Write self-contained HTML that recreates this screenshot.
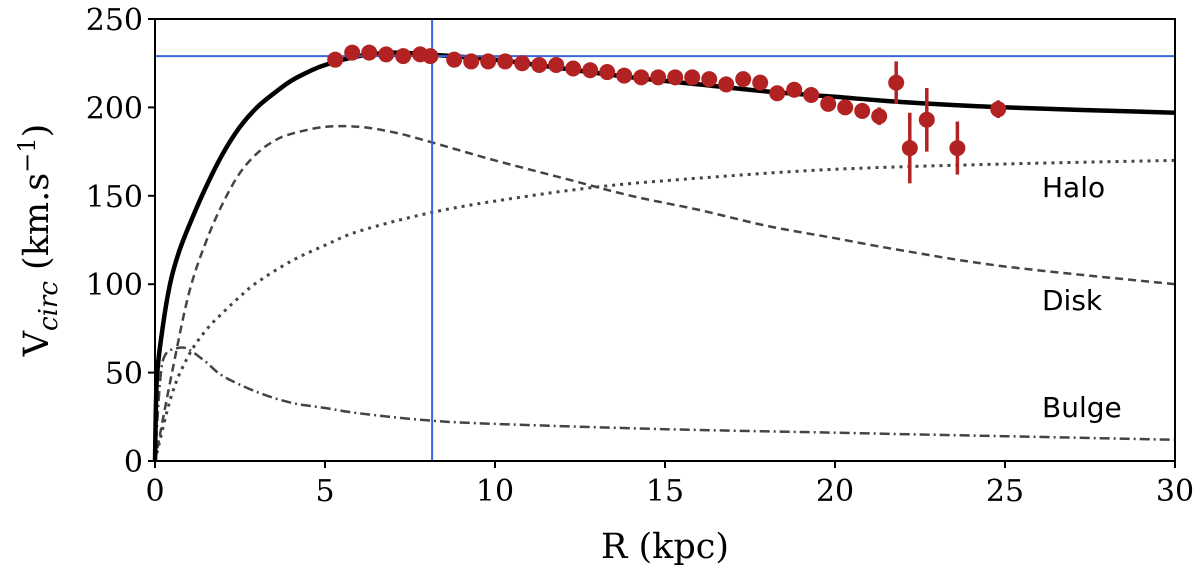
<!DOCTYPE html>
<html><head><meta charset="utf-8">
<style>
html,body{margin:0;padding:0;background:#fff;}
svg{display:block;}
.tick{font-family:"DejaVu Serif","Liberation Serif",serif;font-size:30px;fill:#000;}
.lab{font-family:"DejaVu Sans","Liberation Sans",sans-serif;font-size:28px;fill:#000;}
</style></head>
<body>
<svg id="chart" width="1200" height="574" viewBox="0 0 1200 574">
</svg>
<script>
const xTicks=[0,5,10,15,20,25,30];
const yTicks=[0,50,100,150,200,250];
const totR=[0,0.05,0.2,0.44,0.7,1,1.5,2,2.5,3,3.5,4,4.5,5,6,7,8,10,12,14,16,18,20,22,25,30];
const totV=[0,45,72,100,118,133,155,174,189,200,208,215,220,224,229,231,230,227,222,217,213,209,206,203,200,197];
const diskR=[0,0.5,1,1.5,2,2.5,3,3.5,4,5,6,7,8,10,12,14,16,18,20,22,25,30];
const diskV=[0,50,95,124,146,163,174,181,185,189,189,186,181,170,160,150,142,133,126,119,110,100];
const haloR=[0,0.5,1,1.5,2,2.5,3,4,5,6,8,10,13,16,20,25,30];
const haloV=[0,38,60,74,84,93,101,113,122,130,140,147,155,160,165,168,170];
const bulgeR=[0,0.15,0.3,0.7,1,1.5,2,3,4,5,6,8,10,15,20,25,30];
const bulgeV=[0,45,60,64,63,56,48,39,33,30,27,23,21,18,16,14,12];
const obsR=[5.3,5.8,6.3,6.8,7.3,7.8,8.1,8.8,9.3,9.8,10.3,10.8,11.3,11.8,12.3,12.8,13.3,13.8,14.3,14.8,15.3,15.8,16.3,16.8,17.3,17.8,18.3,18.8,19.3,19.8,20.3,20.8,21.3,21.8,22.2,22.7,23.6,24.8];
const obsV=[227,231,231,230,229,230,229,227,226,226,226,225,224,224,222,221,220,218,217,217,217,217,216,213,216,214,208,210,207,202,200,198,195,214,177,193,177,199];
const obsErr=[0,0,0,0,0,0,0,0,0,0,0,0,0,0,0,0,0,0,0,0,0,0,0,0,0,0,0,0,0,0,0,0,5,12,20,18,15,5];
const vSun=229, rSun=8.15;

const X0=155,X1=1175,Y0=461,Y1=19;
const sx=r=>X0+(r/30)*(X1-X0);
const sy=v=>Y0-(v/250)*(Y0-Y1);
const NS="http://www.w3.org/2000/svg";
const svg=document.getElementById('chart');
function mk(tag,attrs,parent){const e=document.createElementNS(NS,tag);for(const k in attrs)e.setAttribute(k,attrs[k]);(parent||svg).appendChild(e);return e;}

function curve(R,V,style,name){
  const P=R.map((r,i)=>[sx(r),sy(V[i])]);
  let d='M'+P[0][0].toFixed(1)+','+P[0][1].toFixed(1);
  for(let i=0;i<P.length-1;i++){
    const p0=P[Math.max(0,i-1)],p1=P[i],p2=P[i+1],p3=P[Math.min(P.length-1,i+2)];
    const c1=[p1[0]+(p2[0]-p0[0])/6,p1[1]+(p2[1]-p0[1])/6];
    const c2=[p2[0]-(p3[0]-p1[0])/6,p2[1]-(p3[1]-p1[1])/6];
    d+='C'+c1.map(v=>v.toFixed(1)).join(',')+' '+c2.map(v=>v.toFixed(1)).join(',')+' '+p2.map(v=>v.toFixed(1)).join(',');
  }
  const p=mk('path',Object.assign({d:d,fill:'none','stroke-linejoin':'round'},style));
  
  
}
curve(bulgeR,bulgeV,{stroke:'#444','stroke-width':2.5,'stroke-dasharray':'10,4,2,4'},'bulge-curve');
curve(haloR,haloV,{stroke:'#444','stroke-width':3,'stroke-dasharray':'3,5'},'halo-curve');
curve(diskR,diskV,{stroke:'#444','stroke-width':2.5,'stroke-dasharray':'8,5'},'disk-curve');
curve(totR,totV,{stroke:'#000','stroke-width':4.5},'total-curve');

let hl=mk('line',{x1:X0,x2:X1,y1:sy(vSun),y2:sy(vSun),stroke:'#3c64dc','stroke-width':2});


let vl=mk('line',{x1:sx(rSun),x2:sx(rSun),y1:Y1,y2:Y0,stroke:'#3c64dc','stroke-width':2});



obsR.forEach((r,i)=>{
  if(obsErr[i]>0){
    const eb=mk('line',{x1:sx(r),x2:sx(r),y1:sy(obsV[i]-obsErr[i]),y2:sy(obsV[i]+obsErr[i]),stroke:'#b22222','stroke-width':3.5});
    
    
  }
  const c=mk('circle',{cx:sx(r),cy:sy(obsV[i]),r:8,fill:'#b22222'});
  
  
});

let fr=mk('rect',{x:X0,y:Y1,width:X1-X0,height:Y0-Y1,fill:'none',stroke:'#000','stroke-width':2});



xTicks.forEach(t=>{
  const l=mk('line',{x1:sx(t),x2:sx(t),y1:Y0,y2:Y0+7,stroke:'#000','stroke-width':2});
  
  
  const tx=mk('text',{x:sx(t),y:Y0+40,'text-anchor':'middle',class:'tick'});
  tx.textContent=t;
  
  
});
yTicks.forEach(t=>{
  const l=mk('line',{x1:X0-7,x2:X0,y1:sy(t),y2:sy(t),stroke:'#000','stroke-width':2});
  
  
  const tx=mk('text',{x:X0-12,y:sy(t)+11,'text-anchor':'end',class:'tick'});
  tx.textContent=t;
  
  
});

function t(x,y,txt,cls,name,extra){const e=document.createElementNS(NS,'text');e.setAttribute('x',x);e.setAttribute('y',y);e.setAttribute('class',cls);if(extra)for(const k in extra)e.setAttribute(k,extra[k]);e.innerHTML=txt;svg.appendChild(e);}
t(1042,197,'Halo','lab','halo-label');
t(1042,310,'Disk','lab','disk-label');
t(1042,417,'Bulge','lab','bulge-label');
t(665,558,'R (kpc)','tick','x-axis-title',{'text-anchor':'middle',style:'font-size:35px'});
t(0,0,'V<tspan font-style="italic" font-size="26" dy="9">circ</tspan><tspan dy="-9"> (km.s</tspan><tspan font-size="24" dy="-13">−1</tspan><tspan dy="13">)</tspan>','tick','y-axis-title',{transform:'translate(48,240) rotate(-90)','text-anchor':'middle',style:'font-size:35px'});
</script>
</body></html>
